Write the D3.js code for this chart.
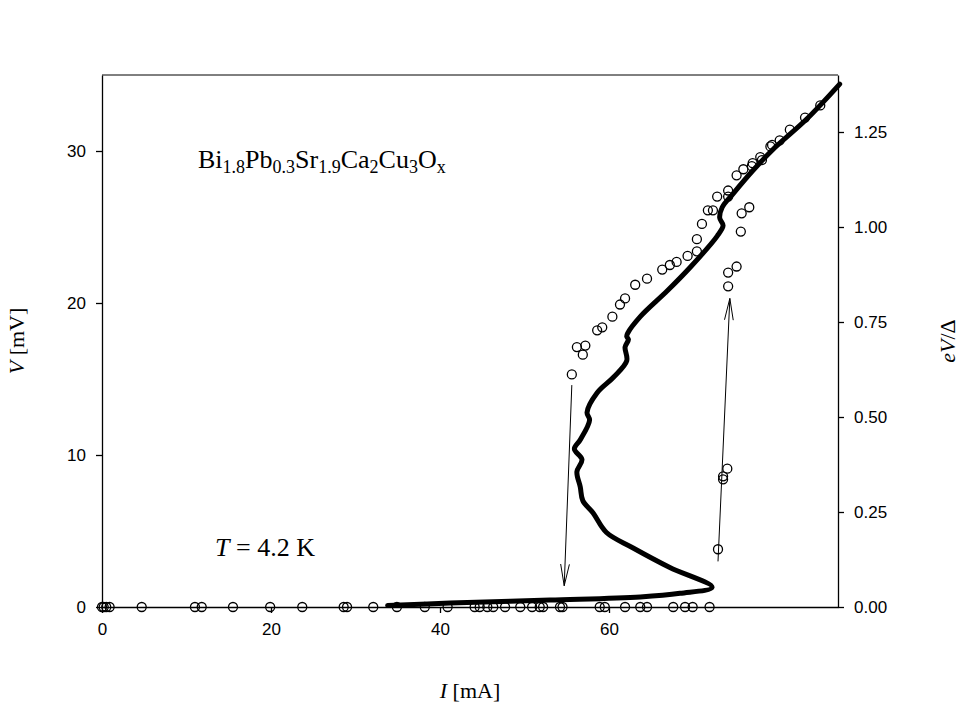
<!DOCTYPE html><html><head><script src="https://cdn.jsdelivr.net/npm/d3@7"></script>
<style>body{margin:0;background:#fff}</style></head><body><svg id="c" width="965" height="710"></svg><script>
const xTicks=[0,20,40,60];
const yTicks=[0,10,20,30];
const y2Ticks=[0,0.25,0.5,0.75,1.0,1.25];
const curveI=[33.8,41.2,53,63.7,68.4,72.2,67.2,62.8,59.7,58.1,56.9,56.6,56.2,56.8,55.9,56.6,57.7,57.4,58.6,60.5,62.1,61.9,62.3,62.1,62.2,63.7,66.9,69.7,72.8,73.5,73.1,73.4,74.7,77,79.4,83.4,87.3];
const curveV=[0.1,0.26,0.46,0.66,0.9,1.3,2.6,3.9,4.9,6.2,7.0,7.9,8.9,9.7,10.4,11.0,12.3,12.8,14.1,15.1,16.2,17.1,17.6,17.8,18.0,19.1,20.8,22.4,24.4,25.1,25.6,26.3,27.2,28.7,30.1,32.1,34.4];
const baseI=[0,0.2,0.5,0.9,4.7,11.0,11.8,15.5,19.9,23.7,28.6,29.0,32.1,34.9,38.2,40.9,44.1,44.7,45.6,46.3,47.7,49.5,50.9,51.8,52.2,54.2,54.5,58.9,59.5,61.9,63.7,64.5,67.6,69.0,69.9,71.9];
const ptI=[55.6,56.2,57.2,56.9,58.6,59.2,60.4,61.3,61.9,63.1,64.5,66.3,67.2,68.0,69.3,70.4,70.4,71.0,71.7,72.3,72.8,74.1,74.1,75.1,75.9,76.9,77.0,77.9,78.1,79.1,79.3,80.2,81.4,83.2,85.0,74.1,74.1,75.1,75.6,75.7,76.6,74.0,73.5,73.5,72.9];
const ptV=[15.3,17.1,17.2,16.6,18.2,18.4,19.1,19.9,20.3,21.2,21.6,22.2,22.5,22.7,23.1,23.4,24.2,25.2,26.1,26.1,27.0,27.4,27.0,28.4,28.8,29.0,29.2,29.6,29.4,30.3,30.4,30.7,31.4,32.2,33.0,21.1,22.0,22.4,24.7,25.9,26.3,9.1,8.4,8.6,3.8];
const arrows=[[55.6,14.6,54.7,1.4],[72.9,3.0,74.3,20.3]];
const svg=d3.select("#c");
const x=d3.scaleLinear().domain([0,87.1]).range([102,838]);
const y=d3.scaleLinear().domain([0,35]).range([607,75]);
const y2=d3.scaleLinear().domain([0,1.4]).range([607,75]);
const tf="Arial, 'Liberation Sans', sans-serif";
const gx=svg.append("g").attr("transform","translate(0,607)").call(d3.axisBottom(x).tickValues(xTicks).tickSize(6).tickPadding(10).tickSizeOuter(0));
const gy=svg.append("g").attr("transform","translate(102,0)").call(d3.axisLeft(y).tickValues(yTicks).tickSize(6).tickPadding(10).tickSizeOuter(0));
const gy2=svg.append("g").attr("transform","translate(838,0)").call(d3.axisRight(y2).tickValues(y2Ticks).tickFormat(d3.format(".2f")).tickSize(6).tickPadding(10).tickSizeOuter(0));
svg.append("line").attr("x1",102).attr("x2",838).attr("y1",75).attr("y2",75).attr("stroke","#000");
[gx,gy,gy2].forEach(g=>{g.attr("font-size",null);g.selectAll("text").style("font-family",tf).style("font-size","17px").attr("fill","#000");g.selectAll("line,path").attr("stroke","#000").attr("stroke-width",1.3);});
svg.append("path").datum(curveI.map((d,i)=>[d,curveV[i]])).attr("fill","none").attr("stroke","#000").attr("stroke-width",5).attr("stroke-linejoin","round").attr("stroke-linecap","round")
 .attr("d",d3.line().x(d=>x(d[0])).y(d=>y(d[1])).curve(d3.curveCatmullRom));
svg.selectAll(".b").data(baseI).join("circle").attr("cx",d=>x(d)).attr("cy",y(0)).attr("r",4.5).attr("fill","none").attr("stroke","#000").attr("stroke-width",1.3);
svg.selectAll(".p").data(ptI).join("circle").attr("cx",d=>x(d)).attr("cy",(d,i)=>y(ptV[i])).attr("r",4.5).attr("fill","none").attr("stroke","#000").attr("stroke-width",1.3);
arrows.forEach(a=>{const x1=x(a[0]),y1=y(a[1]),x2=x(a[2]),y2p=y(a[3]);
 svg.append("line").attr("x1",x1).attr("y1",y1).attr("x2",x2).attr("y2",y2p).attr("stroke","#000");
 const ang=Math.atan2(y2p-y1,x2-x1),L=22,s=0.2;
 [ang+Math.PI-s,ang+Math.PI+s].forEach(t=>svg.append("line").attr("x1",x2).attr("y1",y2p).attr("x2",x2+L*Math.cos(t)).attr("y2",y2p+L*Math.sin(t)).attr("stroke","#000"));});
const sf="'Liberation Serif','Times New Roman',serif";
const t=svg.append("text").attr("x",198).attr("y",168).attr("font-family",sf).attr("font-size",26);
[["Bi",0],["1.8",1],["Pb",0],["0.3",1],["Sr",0],["1.9",1],["Ca",0],["2",1],["Cu",0],["3",1],["O",0],["x",1]].forEach(([s,sub])=>{
 t.append("tspan").attr("baseline-shift",sub?"-30%":"0%").attr("font-size",sub?18:26).text(s);});
const tt=svg.append("text").attr("x",215).attr("y",556).attr("font-family",sf).attr("font-size",26);
tt.append("tspan").attr("font-style","italic").text("T");tt.append("tspan").text(" = 4.2 K");
const xl=svg.append("text").attr("x",470).attr("y",698).attr("text-anchor","middle").attr("font-family",sf).attr("font-size",22);
xl.append("tspan").attr("font-style","italic").text("I");xl.append("tspan").text(" [mA]");
const yl=svg.append("text").attr("transform","translate(24,341) rotate(-90)").attr("text-anchor","middle").attr("font-family",sf).attr("font-size",22);
yl.append("tspan").attr("font-style","italic").text("V");yl.append("tspan").text(" [mV]");
const yl2=svg.append("text").attr("transform","translate(955,341) rotate(-90)").attr("text-anchor","middle").attr("font-family",sf).attr("font-size",22);
yl2.append("tspan").attr("font-style","italic").text("eV");yl2.append("tspan").text("/Δ");
</script></body></html>
